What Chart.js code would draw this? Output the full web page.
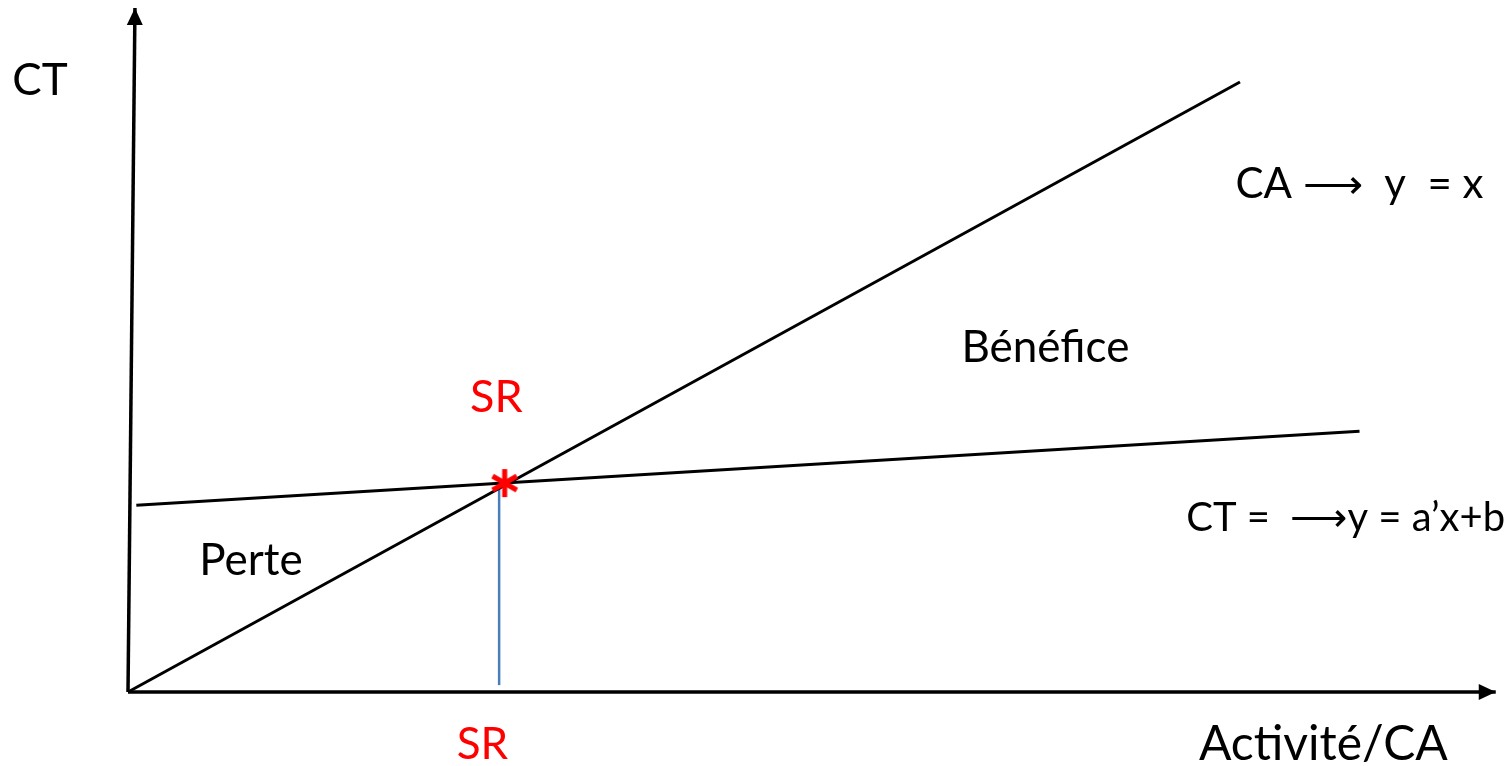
<!DOCTYPE html>
<html>
<head>
<meta charset="utf-8">
<script src="https://cdn.jsdelivr.net/npm/chart.js@4/dist/chart.umd.min.js"></script>
<style>
  html, body { margin: 0; padding: 0; background: #fff; }
  canvas { display: block; }
</style>
</head>
<body>
<canvas id="seuil" width="1512" height="766"></canvas>
<script>
// Données (unités arbitraires, CA : y = x)
const axeY = [{ x: 0, y: 0 }, { x: 0.5, y: 89.7 }];
const axeX = [{ x: 0, y: 0 }, { x: 98.4, y: 0 }];
const droiteCA = [{ x: 0, y: 0 }, { x: 80, y: 80 }];
const droiteCT = [{ x: 0.6, y: 24.5 }, { x: 88.6, y: 34.2 }];
const ligneSR = [{ x: 26.7, y: 0.9 }, { x: 26.7, y: 27.0 }];
const pointSR = [{ x: 27.1, y: 27.4 }];

// Textes du schéma
const textes = ['CT', 'CA \u27F6  y  = x', 'Bénéfice', 'SR', 'CT =  \u27F6y = a\u2019x+b', 'Perte', 'SR', 'Activité/CA'];
const couleursTextes = ['#000', '#000', '#000', '#f00', '#000', '#000', '#f00', '#000'];

// astérisque rouge (6 branches)
function asterisque() {
    const c = document.createElement('canvas');
    c.width = 34; c.height = 34;
    const g = c.getContext('2d');
    g.strokeStyle = '#ff0000';
    g.lineWidth = 5;
    g.lineCap = 'butt';
    for (let i = 0; i < 3; i++) {
        const a = Math.PI / 2 + i * Math.PI / 3;
        g.beginPath();
        g.moveTo(17 - Math.cos(a) * 14, 17 - Math.sin(a) * 14);
        g.lineTo(17 + Math.cos(a) * 14, 17 + Math.sin(a) * 14);
        g.stroke();
    }
    return c;
}

// pointes de flèche au bout des axes
const fleches = {
    id: 'fleches',
    afterDatasetsDraw(chart) {
        const ctx = chart.ctx;
        chart.data.datasets.forEach((ds, i) => {
            if (!ds.arrow) return;
            const pts = chart.getDatasetMeta(i).data;
            const a = pts[pts.length - 2], b = pts[pts.length - 1];
            const ang = Math.atan2(b.y - a.y, b.x - a.x);
            const L = 17, W = 8;
            ctx.save();
            ctx.translate(b.x, b.y);
            ctx.rotate(ang);
            ctx.fillStyle = '#000';
            ctx.beginPath();
            ctx.moveTo(0, 0);
            ctx.lineTo(-L, -W);
            ctx.lineTo(-L, W);
            ctx.closePath();
            ctx.fill();
            ctx.restore();
        });
    }
};

// textes placés en coordonnées de données
const notes = {
    id: 'notes',
    afterDraw(chart, args, opts) {
        const ctx = chart.ctx;
        const sx = chart.scales.x, sy = chart.scales.y;
        ctx.save();
        ctx.textAlign = 'center';
        ctx.textBaseline = 'middle';
        opts.places.forEach((p, i) => {
            ctx.font = p.size + 'px Lato, "Open Sans", sans-serif';
            ctx.fillStyle = couleursTextes[i];
            ctx.fillText(textes[i], sx.getPixelForValue(p.x), sy.getPixelForValue(p.y));
        });
        ctx.restore();
    }
};

const ligne = (data, couleur, epaisseur, extra) => Object.assign({
    data: data,
    showLine: true,
    borderColor: couleur,
    borderWidth: epaisseur,
    pointRadius: 0,
    fill: false
}, extra || {});

new Chart(document.getElementById('seuil').getContext('2d'), {
    type: 'scatter',
    data: {
        datasets: [
            ligne(axeY, '#000', 3.5, { arrow: true }),
            ligne(axeX, '#000', 3.5, { arrow: true }),
            ligne(droiteCA, '#000', 3),
            ligne(droiteCT, '#000', 3),
            ligne(ligneSR, '#4a7ebb', 2.5),
            {
                data: pointSR,
                showLine: false,
                pointStyle: asterisque(),
                pointRadius: 17,
                order: -1 // dessiné par-dessus les droites
            }
        ]
    },
    options: {
        responsive: false,
        animation: false,
        devicePixelRatio: 1,
        layout: { padding: 0, autoPadding: false },
        scales: {
            x: { type: 'linear', display: false, min: -9.209, max: 99.57 },
            y: { type: 'linear', display: false, min: -9.705, max: 90.75 }
        },
        plugins: {
            legend: { display: false },
            tooltip: { enabled: false },
            notes: {
                places: [
                    { x: -6.33, y: 80.1, size: 44 },
                    { x: 88.6, y: 66.5, size: 42 },
                    { x: 66.0, y: 45.1, size: 44 },
                    { x: 26.5, y: 38.6, size: 45 },
                    { x: 87.6, y: 22.8, size: 40 },
                    { x: 8.85, y: 17.2, size: 44 },
                    { x: 25.5, y: -6.95, size: 44 },
                    { x: 86.0, y: -6.95, size: 48 }
                ]
            }
        }
    },
    plugins: [fleches, notes]
});
</script>
</body>
</html>
